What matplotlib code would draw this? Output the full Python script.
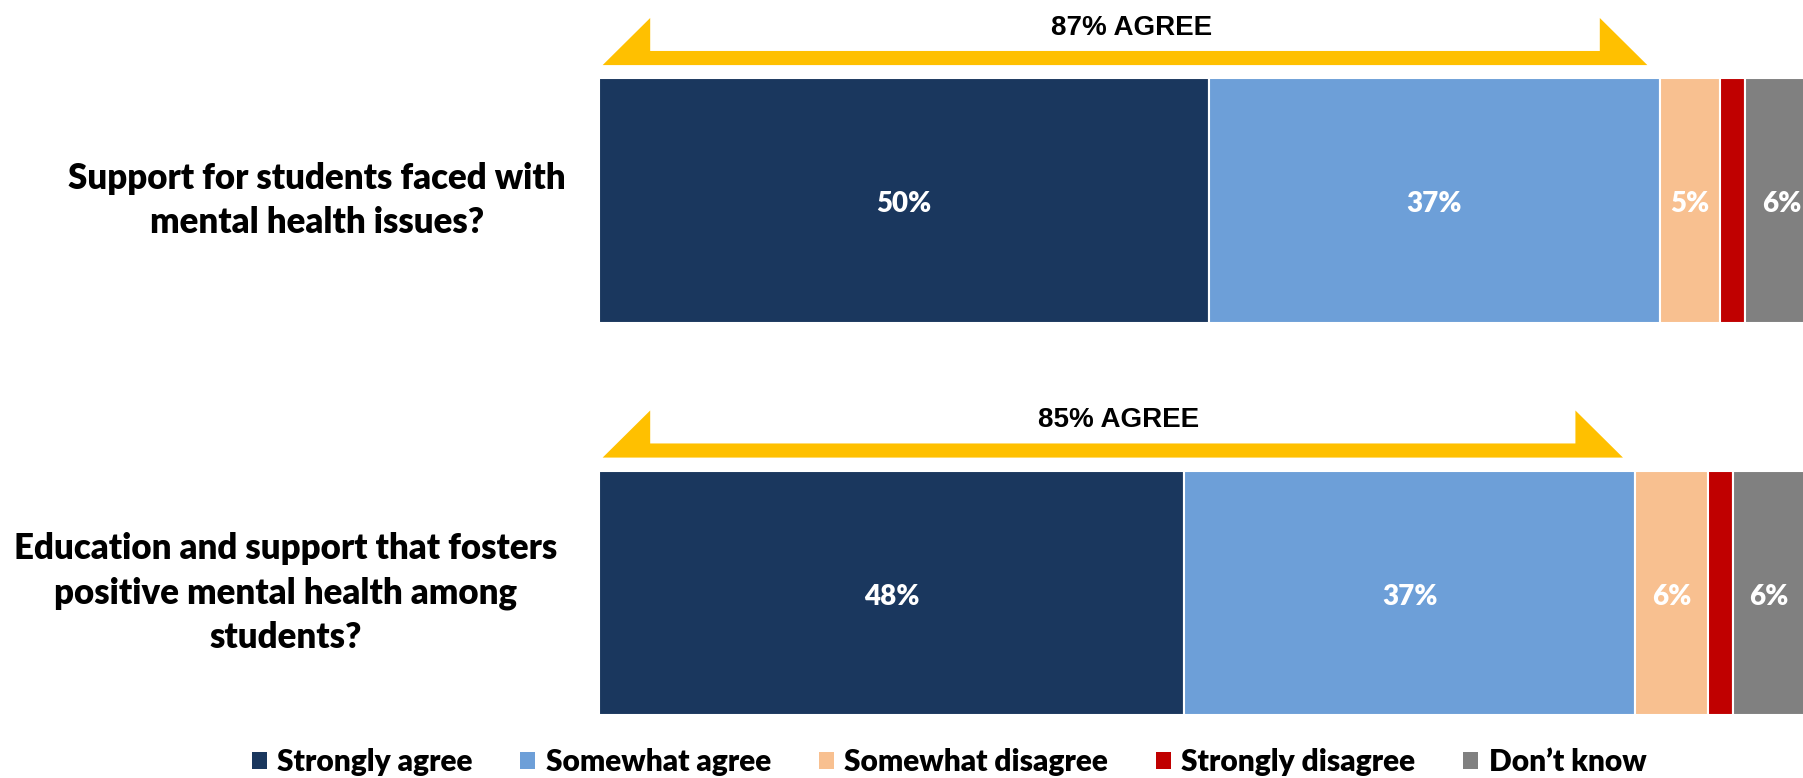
import matplotlib
matplotlib.use("Agg")
import matplotlib.pyplot as plt
from matplotlib.patches import Polygon, Patch

NAVY = "#1A375E"
LIGHT_BLUE = "#6D9FD8"
PEACH = "#F8C090"
DARK_RED = "#C00000"
GREY = "#808080"
GOLD = "#FFC000"

questions = [
    "Support for students faced with\nmental health issues?",
    "Education and support that fosters\npositive mental health among\nstudents?",
]
responses = ["Strongly agree", "Somewhat agree", "Somewhat disagree",
             "Strongly disagree", "Don\u2019t know"]
strongly_agree = [50, 48]
somewhat_agree = [37, 37]
somewhat_disagree = [5, 6]
strongly_disagree = [2, 2]
dont_know = [6, 6]

series = [strongly_agree, somewhat_agree, somewhat_disagree,
          strongly_disagree, dont_know]
colors = [NAVY, LIGHT_BLUE, PEACH, DARK_RED, GREY]

FONT = "Lato"
WEIGHT = "heavy"

W, H = 1803, 778
fig = plt.figure(figsize=(W / 100, H / 100), dpi=100)
left_px = 599
ax = fig.add_axes([left_px / W, 0, 1 - left_px / W, 1])
px_per_pct = 12.19
ax.set_xlim(0, (W - left_px) / px_per_pct)
row_gap_px = 392.5
ax.set_ylim(1 + (H - 593) / row_gap_px, -200.5 / row_gap_px)
ax.axis("off")

rows = list(range(len(questions)))
bar_h = 0.624
left = [0] * len(rows)
for vals, col in zip(series, colors):
    bars = ax.barh(rows, vals, left=left, height=bar_h, color=col,
                   edgecolor="white", linewidth=1.5)
    for rect, v, l in zip(bars, vals, left):
        if v >= 3:
            ax.text(l + v / 2, rect.get_y() + rect.get_height() / 2 + 0.01,
                    f"{v}%", ha="center", va="center", color="white",
                    fontsize=20, fontweight=WEIGHT, family=FONT,
                    clip_on=False)
    left = [a + b for a, b in zip(left, vals)]

# gold bracket arrow over the "agree" share
tri_w = 3.9
for r in rows:
    agree = strongly_agree[r] + somewhat_agree[r]
    x0, x1 = 0.3, agree - 1.0
    yb = r - bar_h / 2 - 0.033
    ys = yb - 0.036
    yt = yb - 0.12
    pts = [(x0, yb), (x0 + tri_w, yt), (x0 + tri_w, ys),
           (x1 - tri_w, ys), (x1 - tri_w, yt), (x1, yb)]
    ax.add_patch(Polygon(pts, closed=True, facecolor=GOLD, edgecolor="none"))
    ax.text((x0 + x1) / 2 + 0.5, r - 0.44, f"{agree}% AGREE", ha="center",
            va="center", fontsize=20, fontweight="bold",
            family="Liberation Sans")

# question labels to the left of the bars
label_x = [317, 286]
for r, q in enumerate(questions):
    fig.text(label_x[r] / W, 1 - (200.5 + r * row_gap_px) / H, q,
             ha="center", va="center", multialignment="center",
             fontsize=25, fontweight=WEIGHT, family=FONT, linespacing=1.42)

handles = [Patch(facecolor=c, edgecolor="none") for c in colors]
fig.legend(handles, responses, loc="center",
           bbox_to_anchor=(949 / W, 1 - 762 / H),
           ncol=5, frameon=False, handlelength=0.5, handleheight=0.5,
           handletextpad=0.35, columnspacing=1.6,
           prop={"family": FONT, "weight": WEIGHT, "size": 21.5})

fig.savefig("out.png", dpi=100)
